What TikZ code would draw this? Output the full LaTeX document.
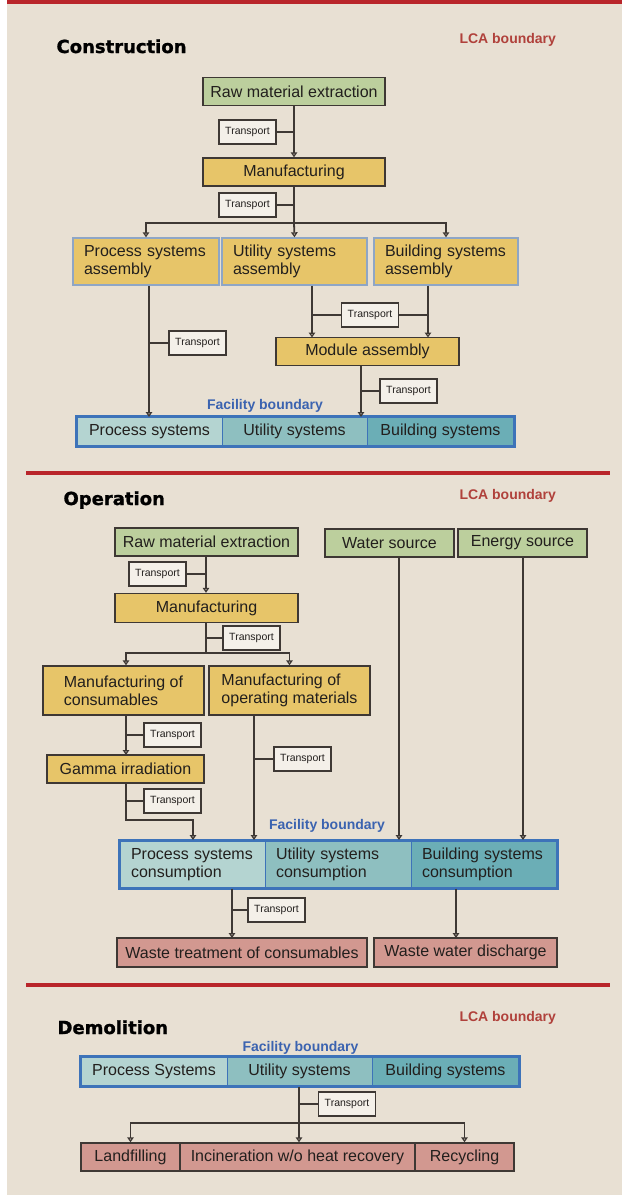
\documentclass[tikz,border=0pt]{standalone}
\usepackage{fontspec}
\setmainfont{Liberation Sans}
\newfontfamily\headfont{DejaVu Sans}[BoldFeatures={FakeBold=1.2}]
\usepackage{tikz}
\usetikzlibrary{arrows.meta}
\definecolor{bg}{HTML}{E8E0D3}
\definecolor{lcared}{HTML}{B9252A}
\definecolor{lcatext}{HTML}{B0413B}
\definecolor{factext}{HTML}{3B63B0}
\definecolor{facblue}{HTML}{3D73B9}
\definecolor{rawgreen}{HTML}{BCCF9D}
\definecolor{mfgyellow}{HTML}{E7C569}
\definecolor{wastepink}{HTML}{D29890}
\definecolor{cellA}{HTML}{B4D4D1}
\definecolor{cellB}{HTML}{8EBFC0}
\definecolor{cellC}{HTML}{6BAEB6}
\definecolor{edge}{HTML}{3E3834}
\definecolor{steel}{HTML}{8EA6C6}
\definecolor{tbox}{HTML}{F4F0E9}
\definecolor{ink}{HTML}{221F1D}

\begin{document}
\begin{tikzpicture}[x=1pt,y=-1pt,
  box/.style={draw=edge,line width=1.4pt,inner sep=0pt,text=ink,font=\fontsize{16}{18}\selectfont},
  srcbox/.style={box,fill=rawgreen,minimum height=28},
  mfgbox/.style={box,fill=mfgyellow,minimum height=28},
  asmbox/.style={box,draw=steel,fill=mfgyellow,minimum height=47,align=left,inner xsep=11pt},
  wastebox/.style={box,fill=wastepink,minimum height=29},
  cell/.style={box,draw=facblue,line width=1pt,minimum height=29},
  tr/.style={draw=edge,line width=1.1pt,fill=tbox,minimum width=57,minimum height=24,inner sep=0pt,text=ink,font=\fontsize{10.5}{12}\selectfont},
  flow/.style={draw=edge,line width=1.8pt,-{Triangle[open,length=5pt,width=6.5pt]}},
  link/.style={draw=edge,line width=1.8pt},
  title/.style={anchor=base west,font=\headfont\bfseries\fontsize{18}{20}\selectfont},
  lca/.style={anchor=base west,text=lcatext,font=\bfseries\fontsize{14}{16}\selectfont},
  fb/.style={anchor=base,text=factext,font=\bfseries\fontsize{14}{16}\selectfont},
  outer/.style={draw=facblue,line width=2.2pt}]
\fill[white] (0,0) rectangle (622,1195);
\fill[bg] (7,0) rectangle (622,1195);
\useasboundingbox (0,0) rectangle (622,1195);
\fill[lcared] (7,0) rectangle (622,3.5);
\fill[lcared] (26,471) rectangle (610,475);
\fill[lcared] (26,983) rectangle (610,987);

\node[title] (con) at (53,53) {Construction};
\node[lca] (lca1) at (456,43) {LCA boundary};
\node[srcbox,minimum width=182] (raw1) at (294,91.5) {Raw material extraction};
\node[mfgbox,minimum width=182] (man1) at (294,172) {Manufacturing};
\node[tr] (t1) at (247.5,132) {Transport};
\node[tr] (t2) at (247.5,205) {Transport};
\coordinate (br1) at (294,223);
\draw[flow] (raw1) -- (man1);
\draw[link] (t1) -- (t1 -| raw1);
\draw[link] (man1) -- (br1);
\draw[link] (t2) -- (t2 -| man1);
\node[asmbox,text width=124,minimum width=146] (psa) at (146,261.5) {Process systems\\assembly};
\node[asmbox,text width=123,minimum width=145] (usa) at (294.5,261.5) {Utility systems\\assembly};
\node[asmbox,text width=122,minimum width=144] (bsa) at (446,261.5) {Building systems\\assembly};
\draw[flow] (br1) -| (psa.north);
\draw[flow] (br1) -- (usa.north);
\draw[flow] (br1) -| (bsa.north);
\node[mfgbox,minimum width=183] (mod) at (367.5,351.5) {Module assembly};
\coordinate (m1) at (312,337.5);
\coordinate (m2) at (428,337.5);
\node[tr] (t4) at (370,315) {Transport};
\draw[flow] (usa.south -| m1) -- (m1);
\draw[flow] (bsa.south -| m2) -- (m2);
\draw[link] (t4.west) -- (t4 -| m1);
\draw[link] (t4.east) -- (t4 -| m2);
\node[fb] (fb1) at (265,409) {Facility boundary};
\node[cell,fill=cellA,minimum width=145] (fa1) at (149.5,431.5) {Process systems};
\node[cell,fill=cellB,minimum width=145] (fa2) at (294.5,431.5) {Utility systems};
\node[cell,fill=cellC,minimum width=147] (fa3) at (440.5,431.5) {Building systems};
\draw[outer] (fa1.north west) rectangle (fa3.south east);
\coordinate (p1) at (149,417);
\node[tr] (t3) at (197.5,343) {Transport};
\draw[flow] (psa.south -| p1) -- (p1);
\draw[link] (t3) -- (t3 -| p1);
\coordinate (f1) at (361,417);
\node[tr] (t5) at (408.5,391) {Transport};
\draw[flow] (mod.south -| f1) -- (f1);
\draw[link] (t5) -- (t5 -| f1);

\node[title] (ope) at (60,505) {Operation};
\node[lca] (lca2) at (456,499) {LCA boundary};
\node[srcbox,minimum width=183] (raw2) at (206.5,542) {Raw material extraction};
\node[srcbox,minimum width=129] (water) at (389.5,543) {Water source};
\node[srcbox,minimum width=129] (energy) at (522.5,543) {Energy source};
\node[mfgbox,minimum width=183,minimum height=29] (man2) at (206.5,608) {Manufacturing};
\node[tr] (t6) at (157.5,574) {Transport};
\node[tr] (t7) at (251.5,638) {Transport};
\coordinate (br2) at (206,653);
\draw[flow] (raw2.south -| br2) -- (man2.north -| br2);
\draw[link] (t6) -- (t6 -| br2);
\draw[link] (man2.south -| br2) -- (br2);
\draw[link] (t7) -- (t7 -| br2);
\node[asmbox,draw=edge,minimum width=161,minimum height=49] (mcons) at (123.5,690.5) {Manufacturing of\\consumables};
\node[asmbox,draw=edge,minimum width=161,minimum height=49] (mops) at (289.5,690.5) {Manufacturing of\\operating materials};
\node[mfgbox,minimum width=157] (gamma) at (125.5,769) {Gamma irradiation};
\coordinate (c1) at (126,755);
\draw[flow] (br2) -| (mcons.north -| c1);
\draw[flow] (br2) -| (mops.north);
\node[tr] (t8) at (172.5,735) {Transport};
\draw[flow] (mcons.south -| c1) -- (c1);
\draw[link] (t8) -- (t8 -| c1);
\node[fb] (fb2) at (327,829) {Facility boundary};
\node[cell,fill=cellA,minimum width=145,minimum height=47,align=left,text width=123,inner xsep=11pt] (fc1) at (192.5,864.5) {Process systems\\consumption};
\node[cell,fill=cellB,minimum width=146,minimum height=47,align=left,text width=124,inner xsep=11pt] (fc2) at (338,864.5) {Utility systems\\consumption};
\node[cell,fill=cellC,minimum width=146,minimum height=47,align=left,text width=124,inner xsep=11pt] (fc3) at (484,864.5) {Building systems\\consumption};
\draw[outer] (fc1.north west) rectangle (fc3.south east);
\coordinate (g1) at (193,840);
\coordinate (g2) at (254,840);
\coordinate (g3) at (399,840);
\coordinate (g4) at (523,840);
\node[tr] (t9) at (172.5,801) {Transport};
\node[tr] (t10) at (302.5,759) {Transport};
\draw[flow] (gamma.south -| c1) -- ++(0,36) -| (g1);
\draw[link] (t9) -- (t9 -| c1);
\draw[flow] (mops.south -| g2) -- (g2);
\draw[link] (t10) -- (t10 -| g2);
\draw[flow] (water.south -| g3) -- (g3);
\draw[flow] (energy.south -| g4) -- (g4);
\node[wastebox,minimum width=250] (wtc) at (242,952.5) {Waste treatment of consumables};
\node[wastebox,minimum width=183] (wwd) at (465.5,952.5) {Waste water discharge};
\coordinate (w1) at (232,938);
\coordinate (w2) at (456,938);
\node[tr] (t11) at (276.5,910) {Transport};
\draw[flow] (fc1.south -| w1) -- (w1);
\draw[link] (t11) -- (t11 -| w1);
\draw[flow] (fc3.south -| w2) -- (w2);

\node[title] (dem) at (54,1034) {Demolition};
\node[lca] (lca3) at (456,1021) {LCA boundary};
\node[fb] (fb3) at (300.5,1051) {Facility boundary};
\node[cell,fill=cellA,minimum width=146] (fd1) at (154,1071.5) {Process Systems};
\node[cell,fill=cellB,minimum width=145] (fd2) at (299.5,1071.5) {Utility systems};
\node[cell,fill=cellC,minimum width=147] (fd3) at (445.5,1071.5) {Building systems};
\draw[outer] (fd1.north west) rectangle (fd3.south east);
\node[wastebox,minimum width=99,minimum height=28] (land) at (130.5,1157) {Landfilling};
\node[wastebox,minimum width=235,minimum height=28] (inc) at (297.5,1157) {Incineration w/o heat recovery};
\node[wastebox,minimum width=99,minimum height=28] (rec) at (464.5,1157) {Recycling};
\coordinate (br3) at (299,1123);
\node[tr] (t12) at (347,1104) {Transport};
\draw[link] (fd2.south -| br3) -- (br3);
\draw[link] (t12) -- (t12 -| br3);
\draw[flow] (br3) -- (br3 |- inc.north);
\draw[flow] (br3) -| (land.north);
\draw[flow] (br3) -| (rec.north);
\end{tikzpicture}
\end{document}
